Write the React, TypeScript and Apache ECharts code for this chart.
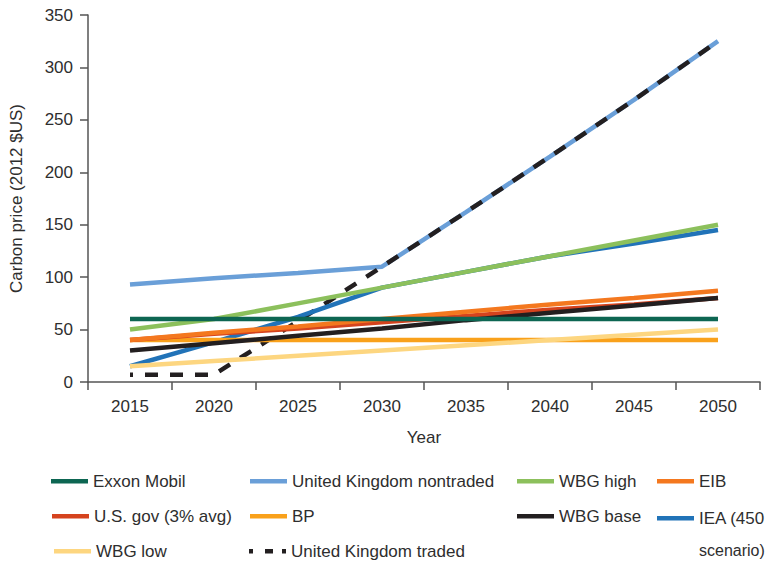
import React, { useEffect, useRef } from "react";
import * as echarts from "echarts";

const years = ["2015", "2020", "2025", "2030", "2035", "2040", "2045", "2050"];
const yTicks = { min: 0, max: 350, interval: 50 };

const exxonMobil = [60, 60, 60, 60, 60, 60, 60, 60];
const ukNontraded = [93, 99, 104, 110, 162, 215, 269, 325];
const wbgHigh = [50, 60, 75, 90, 105, 120, 135, 150];
const eib = [40, 47, 53, 60, 67, 74, 80, 87];
const usGov = [40, 46, 51, 57, 63, 69, 74, 80];
const bp = [40, 40, 40, 40, 40, 40, 40, 40];
const wbgBase = [30, 37, 44, 51, 59, 66, 73, 80];
const iea = [15, 38, 62, 90, 105, 120, 132, 145];
const wbgLow = [15, 20, 25, 30, 35, 40, 45, 50];
const ukTraded = [7, 7, 58, 110, 162, 215, 269, 325];

const FONT = "'Liberation Sans', Arial, sans-serif";
const FS = 17;
const TEXT = "#2e2e2e";
const AXIS = "#555555";

const C = {
  exxon: "#0d6652",
  ukNon: "#6a9fd8",
  wbgHigh: "#8cc05c",
  eib: "#f4781f",
  usGov: "#d5431e",
  bp: "#f9a11b",
  wbgBase: "#231f20",
  iea: "#2173b8",
  wbgLow: "#fdd680",
  ukTraded: "#231f20",
};

function line(name: string, data: number[], color: string, extra: any = {}) {
  return {
    name,
    type: "line",
    data,
    symbol: "none",
    lineStyle: { color, width: 4.5, ...extra },
    itemStyle: { color },
    emphasis: { disabled: true },
  };
}

function legendItem(name: string, left: number, top: number, extra: any = {}) {
  return {
    data: [name],
    left,
    top,
    padding: 0,
    icon: "rect",
    itemWidth: 37,
    itemHeight: 4.5,
    itemGap: 0,
    selectedMode: false,
    textStyle: { fontFamily: FONT, fontSize: FS, color: TEXT, lineHeight: 34 },
    ...extra,
  };
}

export default function App() {
  const ref = useRef<HTMLDivElement>(null);
  useEffect(() => {
    document.body.style.margin = "0";
    document.body.style.overflow = "hidden";
    if (!ref.current) return;
    const chart = echarts.init(ref.current, null, { renderer: "svg" });
    const h = 17 - 2.25;
    const row1 = 479 - h;
    const row2 = 514 - h;
    const row3 = 549 - h;
    chart.setOption({
      animation: false,
      textStyle: { fontFamily: FONT },
      grid: { left: 88, right: 8, top: 15, bottom: 180, containLabel: false },
      xAxis: {
        type: "category",
        data: years,
        boundaryGap: true,
        name: "Year",
        nameLocation: "middle",
        nameGap: 47,
        nameTextStyle: { fontFamily: FONT, fontSize: FS, color: TEXT },
        axisLine: { lineStyle: { color: AXIS, width: 1.5 } },
        axisTick: { show: true, length: 8, inside: false, lineStyle: { color: AXIS, width: 1.5 } },
        axisLabel: { fontFamily: FONT, fontSize: FS, color: TEXT, margin: 16 },
        splitLine: { show: false },
      },
      yAxis: {
        type: "value",
        min: yTicks.min,
        max: yTicks.max,
        interval: yTicks.interval,
        name: "Carbon price (2012 $US)",
        nameLocation: "middle",
        nameGap: 63,
        nameTextStyle: { fontFamily: FONT, fontSize: FS, color: TEXT },
        axisLine: { show: true, lineStyle: { color: AXIS, width: 1.5 } },
        axisTick: { show: true, length: 8, lineStyle: { color: AXIS, width: 1.5 } },
        axisLabel: { fontFamily: FONT, fontSize: FS, color: TEXT, margin: 15 },
        splitLine: { show: false },
      },
      legend: [
        legendItem("Exxon Mobil", 51, row1),
        legendItem("United Kingdom nontraded", 250, row1),
        legendItem("WBG high", 517, row1),
        legendItem("EIB", 657, row1),
        legendItem("U.S. gov (3% avg)", 52, row2),
        legendItem("BP", 250, row2),
        legendItem("WBG base", 517, row2),
        legendItem("IEA (450 scenario)", 657, 516 - h, {
          formatter: () => "IEA (450",
        }),
        legendItem("WBG low", 54, row3),
        legendItem("United Kingdom traded", 249, row3, {
          icon: "path://M0,0h4v4.5h-4z M16,0h8v4.5h-8z M33,0h4v4.5h-4z",
        }),
      ],
      graphic: [
        {
          type: "text",
          left: 699,
          top: 542,
          silent: true,
          style: { text: "scenario)", font: `16px ${FONT}`, fill: TEXT },
        },
      ],
      series: [
        line("United Kingdom nontraded", ukNontraded, C.ukNon),
        line("United Kingdom traded", ukTraded, C.ukTraded, { type: [13, 12], dashOffset: 10 }),
        line("IEA (450 scenario)", iea, C.iea),
        line("WBG high", wbgHigh, C.wbgHigh),
        line("BP", bp, C.bp),
        line("WBG low", wbgLow, C.wbgLow),
        line("U.S. gov (3% avg)", usGov, C.usGov),
        line("EIB", eib, C.eib),
        line("WBG base", wbgBase, C.wbgBase),
        line("Exxon Mobil", exxonMobil, C.exxon),
      ],
    });
    return () => chart.dispose();
  }, []);
  return <div ref={ref} style={{ width: 768, height: 562 }} />;
}
